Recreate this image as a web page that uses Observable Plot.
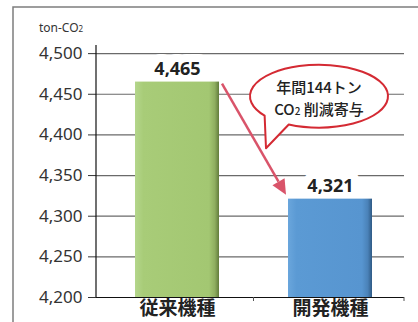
<!DOCTYPE html>
<html><head><meta charset="utf-8">
<script src="https://cdn.jsdelivr.net/npm/d3@7"></script>
<script src="https://cdn.jsdelivr.net/npm/@observablehq/plot@0.6"></script>
<style>
body{margin:0;background:#fff}
#chart{width:418px;height:322px;overflow:hidden;position:relative}
#chart svg{display:block}
</style>
</head><body><div id="chart"></div>
<script>
const categories = ["従来機種", "開発機種"];
const values = [4465, 4321];
const valueLabels = ["4,465", "4,321"];
const yTicks = [4200, 4250, 4300, 4350, 4400, 4450, 4500];
const unitLabel = ["ton-CO", "2"];
const calloutLine1 = "年間144トン";
const calloutLine2 = ["CO", "2", " 削減寄与"];
const barGradients = ["gGreen", "gBlue"];

const data = categories.map((c, i) => ({category: c, value: values[i], label: valueLabels[i], fill: `url(#${barGradients[i]})`}));

const plot = Plot.plot({
  width: 418, height: 322,
  marginLeft: 96, marginRight: 14, marginTop: 45, marginBottom: 25,
  style: {fontFamily: "'Noto Sans', sans-serif", background: "transparent"},
  x: {domain: categories, paddingInner: 0.45, paddingOuter: 0.23, align: 0.55, label: null},
  y: {domain: [4200, 4510], label: null},
  color: {type: "identity"},
  marks: [
    Plot.gridY(yTicks, {stroke: "#6a6a6a", strokeOpacity: 1, strokeWidth: 1.2}),
    Plot.text(data, {x: "category", y: "value", text: "label", dy: -13, fontSize: 18, fontWeight: "bold", fill: "white", stroke: "white", strokeWidth: 16}),
    Plot.barY(data, {x: "category", y1: 4200, y2: "value", fill: "fill"}),
    Plot.text(data, {x: "category", y: "value", text: "label", dy: -13, fontSize: 18, fontWeight: "bold", fill: "#222"}),
    Plot.axisY(yTicks, {tickSize: 8, tickPadding: 6, tickFormat: d3.format(","), fontSize: 17, color: "#333"}),
    Plot.axisX({tickSize: 0, tickPadding: 4, fontSize: 19, fontWeight: "bold", fontFamily: "'Noto Sans CJK JP', sans-serif", color: "#222"}),
    Plot.ruleY([4200], {stroke: "#111", strokeWidth: 1.2})
  ]
});

document.getElementById("chart").appendChild(plot);

const svg = d3.select(plot);
const xs = plot.scale("x"), ys = plot.scale("y");
const bw = xs.bandwidth, step = xs.step;
const [xr0, xr1] = xs.range;
const yBottom = ys.apply(4200), yTop = ys.apply(4510);

// gradients
const defs = svg.insert("defs", ":first-child");
function grad(id, stops) {
  const g = defs.append("linearGradient").attr("id", id).attr("x1", 0).attr("x2", 1).attr("y1", 0).attr("y2", 0);
  stops.forEach(([o, c]) => g.append("stop").attr("offset", o).attr("stop-color", c));
}
grad("gGreen", [[0, "#b4d68c"], [0.1, "#a8cc78"], [0.88, "#a3c772"], [0.95, "#8fae60"], [1, "#627c3c"]]);
grad("gBlue", [[0, "#6aa6dc"], [0.1, "#5b9ad4"], [0.88, "#5795d0"], [0.95, "#4a82b8"], [1, "#2f5a85"]]);

// outer border (top and left edges)
svg.insert("path", "defs + *").attr("d", "M13,330V7H430")
  .attr("fill", "none").attr("stroke", "#7d7d7d").attr("stroke-width", 1.5);

// y axis line
svg.append("line").attr("x1", xr0).attr("x2", xr0).attr("y1", yTop).attr("y2", yBottom)
  .attr("stroke", "#111").attr("stroke-width", 1.2);

// x boundary ticks
const bX = [xs.apply(categories[0]) + bw + (step - bw) / 2, xr1];
bX.forEach(x => svg.append("line").attr("x1", x).attr("x2", x).attr("y1", yBottom).attr("y2", yBottom + 4)
  .attr("stroke", "#555").attr("stroke-width", 1));

// unit label
const ut = svg.append("text").attr("x", 39).attr("y", 32).attr("text-anchor", "start")
  .attr("font-family", "'Noto Sans', sans-serif").attr("font-size", 12).attr("fill", "#333");
ut.append("tspan").text(unitLabel[0]);
ut.append("tspan").attr("font-size", 8).text(unitLabel[1]);

// arrow
const ax1 = xs.apply(categories[0]) + bw + 3, ay1 = ys.apply(values[0]) + 2;
const ax2 = xs.apply(categories[1]) - 2, ay2 = ys.apply(values[1]) - 4;
const ang = Math.atan2(ay2 - ay1, ax2 - ax1);
const hl = 15, hw = 7;
const bxp = ax2 - hl * Math.cos(ang), byp = ay2 - hl * Math.sin(ang);
const arrowColor = "#d9546a";
svg.append("line").attr("x1", ax1).attr("y1", ay1).attr("x2", bxp).attr("y2", byp)
  .attr("stroke", arrowColor).attr("stroke-width", 2.5);
svg.append("path").attr("d", `M${ax2},${ay2}L${bxp + hw * Math.sin(ang)},${byp - hw * Math.cos(ang)}L${bxp - hw * Math.sin(ang)},${byp + hw * Math.cos(ang)}Z`)
  .attr("fill", arrowColor);

// callout bubble
const cx = xs.apply(categories[1]) + bw / 2 - 11, cy = ys.apply(4447);
const rx = 69, ry = 31.5;
const pt = a => [cx + rx * Math.cos(a * Math.PI / 180), cy + ry * Math.sin(a * Math.PI / 180)];
const p1 = pt(142), p2 = pt(116);
const tip = [cx - 53, cy + 52];
svg.append("path").attr("d", `M${p1}L${tip}L${p2}A${rx},${ry} 0 1 0 ${p1}Z`)
  .attr("fill", "white").attr("stroke", "#d42a33").attr("stroke-width", 2).attr("stroke-linejoin", "round");
const cf = "'Noto Sans CJK JP', sans-serif";
svg.append("text").attr("x", cx).attr("y", cy - 3).attr("text-anchor", "middle").attr("font-family", cf)
  .attr("font-size", 15).attr("font-weight", 500).attr("fill", "#222").text(calloutLine1);
const t2 = svg.append("text").attr("x", cx).attr("y", cy + 19).attr("text-anchor", "middle").attr("font-family", cf)
  .attr("font-size", 15).attr("font-weight", 500).attr("fill", "#222");
t2.append("tspan").text(calloutLine2[0]);
t2.append("tspan").attr("font-size", 10).text(calloutLine2[1]);
t2.append("tspan").text(calloutLine2[2]);
</script>
</body></html>
